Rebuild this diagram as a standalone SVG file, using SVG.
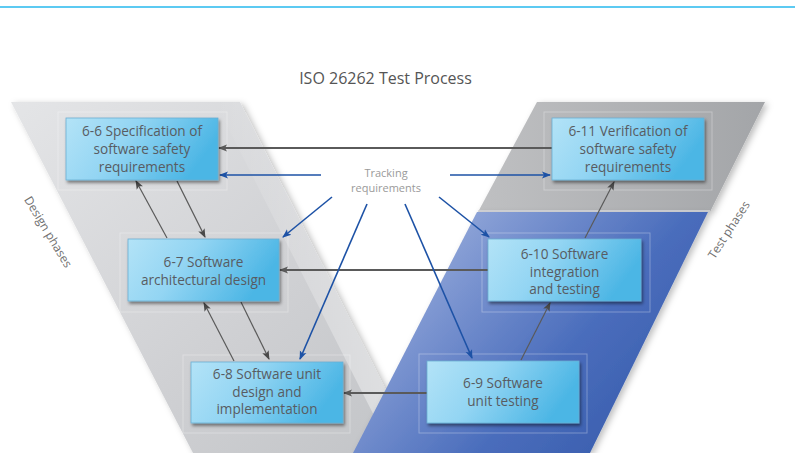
<svg xmlns="http://www.w3.org/2000/svg" width="795" height="453" viewBox="0 0 795 453">
<defs>
<style>
.box{fill:url(#boxg);stroke:#6aaed3;stroke-width:0.8;filter:url(#sh)}
.frame{fill:none;stroke:#ffffff;stroke-opacity:0.3;stroke-width:1}
.t{font-family:"Open Sans","Liberation Sans",sans-serif;font-size:13.6px;fill:#585c62;text-anchor:middle}
.lbl{font-family:"Open Sans","Liberation Sans",sans-serif;fill:#707070;text-anchor:middle}
.gray{stroke:#5a5a5a;fill:none}
.h{stroke-width:2;marker-end:url(#ag)}
.d{stroke-width:1.2;marker-end:url(#ag2)}
.blue{stroke:#1d52a6;stroke-width:1.6;fill:none;marker-end:url(#ab)}
</style>
<linearGradient id="boxg" x1="0" y1="0" x2="1" y2="0.3">
<stop offset="0" stop-color="#b3e3f7"/>
<stop offset="0.45" stop-color="#93d5f3"/>
<stop offset="1" stop-color="#4cb6e5"/>
</linearGradient>
<linearGradient id="lgray" x1="0" y1="0" x2="1" y2="1">
<stop offset="0" stop-color="#e4e5e7"/>
<stop offset="0.6" stop-color="#cfd0d3"/>
<stop offset="1" stop-color="#c2c4c7"/>
</linearGradient>
<linearGradient id="rgray" x1="0" y1="0" x2="1" y2="0">
<stop offset="0" stop-color="#bfc0c2"/>
<stop offset="1" stop-color="#a3a5a8"/>
</linearGradient>
<linearGradient id="blueg" x1="0" y1="0" x2="1" y2="0.6">
<stop offset="0" stop-color="#b2c1e4"/>
<stop offset="0.35" stop-color="#7d96d1"/>
<stop offset="0.7" stop-color="#4a6dbc"/>
<stop offset="1" stop-color="#3a5eae"/>
</linearGradient>
<linearGradient id="edgeglow" x1="0" y1="0" x2="1" y2="0">
<stop offset="0" stop-color="#ffffff" stop-opacity="0"/>
<stop offset="1" stop-color="#ffffff" stop-opacity="0.5"/>
</linearGradient>
<filter id="sh" x="-10%" y="-10%" width="130%" height="140%">
<feDropShadow dx="1.5" dy="2.5" stdDeviation="1.6" flood-color="#000" flood-opacity="0.45"/>
</filter>
<filter id="psh" x="-10%" y="-10%" width="130%" height="130%">
<feDropShadow dx="3" dy="2" stdDeviation="3" flood-color="#000" flood-opacity="0.25"/>
</filter>
<marker id="ag" markerWidth="10" markerHeight="10" refX="8" refY="5" orient="auto" markerUnits="userSpaceOnUse">
<path d="M0,1.5 L9,5 L0,8.5 L2,5 Z" fill="#5a5a5a"/>
</marker>
<marker id="ag2" markerWidth="10" markerHeight="10" refX="8" refY="5" orient="auto" markerUnits="userSpaceOnUse">
<path d="M0,1.5 L9,5 L0,8.5 L2,5 Z" fill="#4a4a4a"/>
</marker>
<marker id="ab" markerWidth="10" markerHeight="10" refX="8" refY="5" orient="auto" markerUnits="userSpaceOnUse">
<path d="M0,1.5 L9,5 L0,8.5 L2,5 Z" fill="#1d52a6"/>
</marker>
</defs>
<rect width="795" height="453" fill="#ffffff"/>
<line x1="0" y1="7" x2="795" y2="7" stroke="#5ccaf2" stroke-width="2"/>
<text x="385.5" y="84" font-family="Open Sans, Liberation Sans, sans-serif" font-size="16" fill="#555" text-anchor="middle">ISO 26262 Test Process</text>

<g id="background">
<polygon points="11,102 240,102 418,453 193,453" fill="url(#lgray)" filter="url(#psh)"/>
<polygon points="215,102 240,102 418,453 393,453" fill="url(#edgeglow)"/>
<polygon points="537,102 765,102 710,212 478,212" fill="url(#rgray)" filter="url(#psh)"/>
<polygon points="477,212 708,212 590,453 353,453" fill="url(#blueg)" filter="url(#psh)"/>
<line x1="478" y1="211" x2="710" y2="211" stroke="#d4d6da" stroke-width="1.5"/>
</g>

<g id="frames">
<rect class="frame" x="58" y="112" width="169" height="78"/>
<rect class="frame" x="120" y="233" width="168" height="79"/>
<rect class="frame" x="183" y="355" width="167" height="78"/>
<rect class="frame" x="544" y="112" width="168" height="78"/>
<rect class="frame" x="482" y="233" width="168" height="79"/>
<rect class="frame" x="419" y="354" width="168" height="79"/>
</g>

<g id="labels">
<text class="lbl" font-size="12" transform="translate(48,232) rotate(59)" dy="4">Design phases</text>
<text class="lbl" font-size="12" transform="translate(729,230) rotate(-57)" dy="4">Test phases</text>
<text class="lbl" font-size="11" x="386" y="177" style="fill:#9a9a9a">Tracking</text>
<text class="lbl" font-size="11" x="386" y="192" style="fill:#9a9a9a">requirements</text>
</g>

<g id="connectors">
<line class="gray h" x1="552" y1="148" x2="219" y2="148"/>
<line class="gray h" x1="488" y1="270" x2="280" y2="270"/>
<line class="gray h" x1="427" y1="393" x2="344" y2="393"/>
<line class="gray d" x1="167" y1="238" x2="136" y2="181"/>
<line class="gray d" x1="177" y1="181" x2="205" y2="237"/>
<line class="gray d" x1="234" y1="361" x2="204" y2="303"/>
<line class="gray d" x1="241" y1="302" x2="269" y2="359"/>
<line class="gray d" x1="521" y1="360" x2="550" y2="303"/>
<line class="gray d" x1="585" y1="238" x2="614" y2="182"/>
<line class="blue" x1="321" y1="175" x2="220" y2="175"/>
<line class="blue" x1="450" y1="175" x2="550" y2="175"/>
<line class="blue" x1="332" y1="197" x2="283" y2="237"/>
<line class="blue" x1="367" y1="204" x2="300" y2="359"/>
<line class="blue" x1="405" y1="204" x2="472" y2="358"/>
<line class="blue" x1="439" y1="197" x2="489" y2="237"/>
</g>

<g id="n66">
<rect class="box" x="66" y="118" width="152" height="62"/>
<text class="t" x="142" y="136">6-6 Specification of</text>
<text class="t" x="142" y="154">software safety</text>
<text class="t" x="142" y="172">requirements</text>
</g>
<g id="n67">
<rect class="box" x="128" y="239" width="151" height="62"/>
<text class="t" x="203.5" y="267">6-7 Software</text>
<text class="t" x="203.5" y="285">architectural design</text>
</g>
<g id="n68">
<rect class="box" x="191" y="362" width="152" height="61"/>
<text class="t" x="267" y="379">6-8 Software unit</text>
<text class="t" x="267" y="396.5">design and</text>
<text class="t" x="267" y="414">implementation</text>
</g>
<g id="n611">
<rect class="box" x="552" y="118" width="152" height="62"/>
<text class="t" x="628" y="136">6-11 Verification of</text>
<text class="t" x="628" y="154">software safety</text>
<text class="t" x="628" y="172">requirements</text>
</g>
<g id="n610">
<rect class="box" x="488" y="239" width="153" height="62"/>
<text class="t" x="564.5" y="259">6-10 Software</text>
<text class="t" x="564.5" y="276.5">integration</text>
<text class="t" x="564.5" y="294">and testing</text>
</g>
<g id="n69">
<rect class="box" x="427" y="361" width="152" height="62"/>
<text class="t" x="503" y="388">6-9 Software</text>
<text class="t" x="503" y="406">unit testing</text>
</g>
</svg>
